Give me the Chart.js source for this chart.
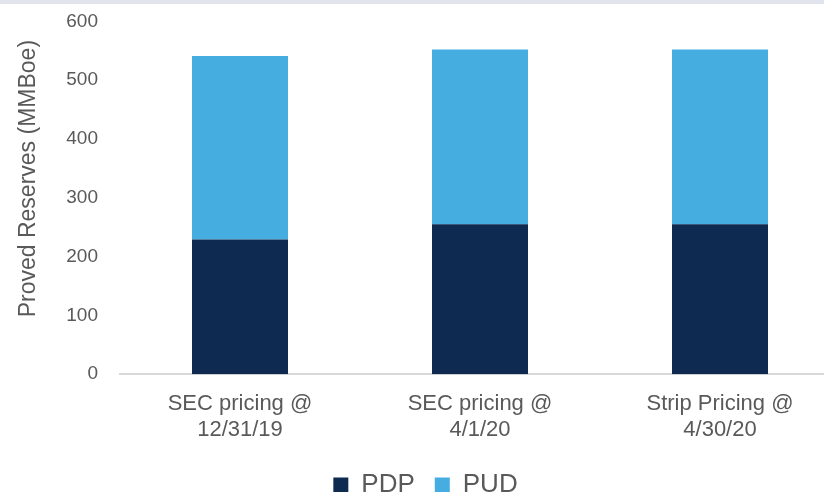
<!DOCTYPE html>
<html>
<head>
<meta charset="utf-8">
<script src="https://cdn.jsdelivr.net/npm/chart.js@4.4.0/dist/chart.umd.min.js"></script>
<style>
html, body { margin: 0; padding: 0; background: #fff; overflow: hidden; }
#topband { position: absolute; left: 0; top: 0; width: 100%; height: 4px; background: #e1e4ec; z-index: 1; }
#wrap { position: relative; width: 840px; height: 496px; margin-top: -4px; }
</style>
</head>
<body>
<div id="topband"></div>
<div id="wrap"><canvas id="chart"></canvas></div>
<script>
var categories = [
    ['SEC pricing @', '12/31/19'],
    ['SEC pricing @', '4/1/20'],
    ['Strip Pricing @', '4/30/20']
];
var pdpValues = [229, 255, 255];
var pudValues = [312, 297, 297];
var yMax = 600;
var yStep = 100;

var fontFamily = "'Liberation Sans', Arial, sans-serif";
var textColor = '#595959';

var ctx = document.getElementById('chart');
var chartInstance = new Chart(ctx, {
    type: 'bar',
    data: {
        labels: categories,
        datasets: [
            {
                label: 'PDP',
                data: pdpValues,
                backgroundColor: '#0f2a51',
                barPercentage: 0.4,
                categoryPercentage: 1.0
            },
            {
                label: 'PUD',
                data: pudValues,
                backgroundColor: '#46ade1',
                barPercentage: 0.4,
                categoryPercentage: 1.0
            }
        ]
    },
    options: {
        responsive: true,
        maintainAspectRatio: false,
        animation: false,
        layout: {
            padding: { left: 11, right: 0, top: -4, bottom: -16 }
        },
        plugins: {
            tooltip: { enabled: false },
            legend: {
                position: 'bottom',
                labels: {
                    boxWidth: 15,
                    boxHeight: 15,
                    padding: 20,
                    color: textColor,
                    font: { family: fontFamily, size: 26 }
                }
            }
        },
        scales: {
            x: {
                stacked: true,
                grid: { display: false },
                border: { display: true, color: '#d9d9d9', width: 2 },
                ticks: {
                    color: textColor,
                    padding: 8.5,
                    maxRotation: 0,
                    font: { family: fontFamily, size: 22, lineHeight: 1.2 }
                }
            },
            y: {
                stacked: true,
                min: 0,
                max: yMax,
                grid: { display: false },
                border: { display: false },
                ticks: {
                    stepSize: yStep,
                    color: textColor,
                    padding: 14,
                    font: { family: fontFamily, size: 19 }
                },
                title: {
                    display: true,
                    text: '      Proved Reserves (MMBoe)',
                    color: textColor,
                    font: { family: fontFamily, size: 23 }
                },
                afterFit: function(scale) {
                    scale.width = 109;
                }
            }
        }
    }
});
</script>
</body>
</html>
